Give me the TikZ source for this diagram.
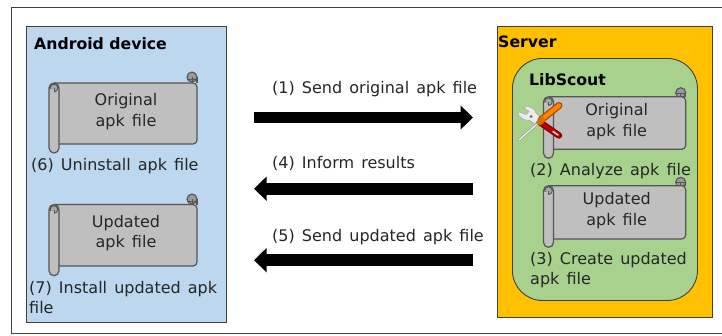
\documentclass[tikz,border=0pt]{standalone}
\usepackage{fontspec}
\setmainfont[WordSpace=1.4,BoldFeatures={WordSpace=1}]{DejaVu Sans}
\usetikzlibrary{arrows.meta}
\definecolor{devblue}{HTML}{BDD7EE}
\definecolor{srvorange}{HTML}{FFC000}
\definecolor{libgreen}{HTML}{A9D18E}
\definecolor{scrollgray}{HTML}{BFBFBF}
\definecolor{scrolldark}{HTML}{999999}
\definecolor{scrollline}{HTML}{555555}
\tikzset{
  x=1pt,y=-1pt,
  panel/.style={draw=black!75,line width=0.9pt},
  scrollbody/.style={draw=scrollline,line width=1.2pt,fill=scrollgray,line join=round},
  scrollcurl/.style={draw=scrollline,line width=1.1pt,fill=scrolldark},
  body/.style={inner sep=0pt,font=\fontsize{16}{20.5}\selectfont,text=black!85},
  label/.style={body,anchor=base west},
  wrapped/.style={body,anchor=north west,align=left},
  scrolltext/.style={body,align=center},
  heading/.style={inner sep=0pt,anchor=base west,font=\fontsize{15.7}{20}\selectfont\bfseries,text=black},
  bigarrow/.style={line width=11.8pt,-{Triangle[length=12.5pt,width=23.5pt]},black}
}
% x-left, x-right, y-bump-top, y-top, y-bottom, y-roll-bottom
\newcommand{\apkscroll}[6]{%
  \draw[scrollcurl] (#2-5,#3+5) circle[radius=5];
  \draw[scrollbody,rounded corners=4pt] (#1+5,#4) -- (#2,#4) -- (#2,#5) -- (#1+5,#5);
  \draw[scrollline,line width=1.1pt] (#2,#3+5) -- (#2,#4);
  \draw[scrollline,line width=0.7pt] (#2-5,#3+5) -- (#2-5,#4) (#2-10,#4-3.5) -- (#2,#4-3.5);
  \draw[scrollbody,rounded corners=5pt] (#1,#4) rectangle (#1+10,#6);
  \draw[scrollline,line width=0.9pt,fill=scrolldark!60!scrollgray] (#1+5,#4+5) circle[radius=3.8];
  \fill[scrollgray] (#1+0.7,#4+6) rectangle (#1+5.2,#4+10);
  \draw[scrollline,line width=0.8pt] (#1+5.2,#4+5) -- (#1+5.2,#4+8.8);
}
\begin{document}
\begin{tikzpicture}
\useasboundingbox (0,0) rectangle (722,335);
\fill[white] (0,0) rectangle (722,335);
\draw[black!75,line width=0.9pt] (722,7.5) -- (11.5,7.5) -- (11.5,333.5) -- (722,333.5);

\node[panel,fill=devblue,minimum width=199.5pt,minimum height=296pt,inner sep=0pt,anchor=north west] (device) at (26,25.5) {};
\node[panel,fill=srvorange,minimum width=215pt,minimum height=291pt,inner sep=0pt,anchor=north west] (server) at (496.5,26) {};
\node[panel,fill=libgreen,rounded corners=30pt,minimum width=185pt,minimum height=242pt,inner sep=0pt,anchor=north west] (libscout) at (512,58) {};

\node[heading] (devicetitle) at (34,49.3) {Android device};
\node[heading] (servertitle) at (498,47.7) {Server};
\node[heading] (libtitle) at (529,85) {LibScout};

\apkscroll{49}{197}{72}{83}{144}{153}
\apkscroll{49}{197}{194}{204.5}{266}{275.7}
\apkscroll{543.5}{685.7}{87.7}{96.7}{149.3}{158.3}
\apkscroll{543.5}{685.7}{177.3}{185.7}{239}{247.3}

\node[scrolltext] (origa) at (126,111.5) {Original\\apk file};
\node[scrolltext] (upda) at (126,233) {Updated\\apk file};
\node[scrolltext] (origb) at (616.7,121.5) {Original\\apk file};
\node[scrolltext] (updb) at (616.7,210.5) {Updated\\apk file};

\node[label] (uninstall) at (31,170) {(6) Uninstall apk file};
\node[wrapped] (install) at (29,281) {(7) Install updated apk\\file};
\node[label] (analyze) at (530,175) {(2) Analyze apk file};
\node[wrapped] (create) at (530,252) {(3) Create updated\\apk file};

\node[label] (send) at (272,93.3) {(1) Send original apk file};
\node[label] (inform) at (272,168) {(4) Inform results};
\node[label] (sendup) at (272,241.7) {(5) Send updated apk file};

\coordinate (a1s) at (254,117.5); \coordinate (a1e) at (473,117.5);
\coordinate (a2s) at (473,188.7); \coordinate (a2e) at (254,188.7);
\coordinate (a3s) at (473,260.2); \coordinate (a3e) at (254,260.2);
\draw[bigarrow] (a1s) -- (a1e);
\draw[bigarrow] (a2s) -- (a2e);
\draw[bigarrow] (a3s) -- (a3e);

% tools icon
\draw[line width=2.2pt,black!45,line cap=round] (519.5,139.5) -- (537,124);
\draw[line width=1.1pt,white,line cap=round] (519.5,139.5) -- (537,124);
\draw[line width=5pt,black!45] (528,115) -- (541,124);
\draw[line width=3.6pt,black!10] (528,115) -- (541,124);
\fill[black!8,draw=black!35,line width=0.5pt] (523,107) .. controls (529,105.5) and (535,108) .. (536,113) -- (541,118) -- (535,124) -- (530,120.5) .. controls (523,120.5) and (518,117) .. (518,111.5) -- (526,114.5) -- (529,111.5) -- cycle;
\fill[black!60] (531,116.5) circle[radius=1.5];
\draw[line width=6.4pt,red!50!black,line cap=round] (541,123) -- (559,135.5);
\draw[line width=3.8pt,red!75!black,line cap=round] (541,123) -- (559,135.5);
\draw[line width=1.6pt,red!20!white,line cap=round] (553,131.5) -- (558,135);
\draw[line width=7pt,orange!60!black,line cap=round] (541,120) -- (559,105.5);
\draw[line width=4.6pt,orange,line cap=round] (541,120) -- (559,105.5);
\fill[orange!85!black] (536,122) -- (542,116) -- (546,121) -- (540,125.5) -- cycle;
\end{tikzpicture}
\end{document}
